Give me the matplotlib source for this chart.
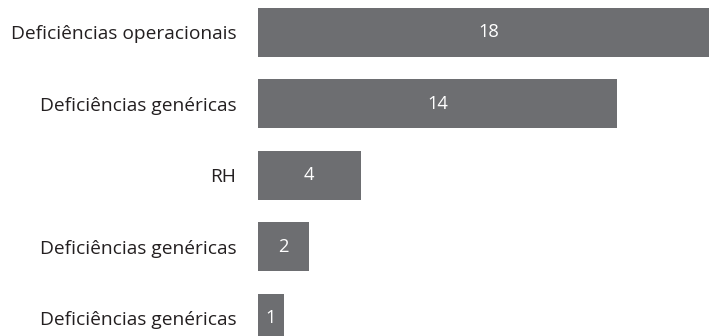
import matplotlib
matplotlib.use("Agg")
import matplotlib.pyplot as plt

categories = ["Deficiências operacionais", "Deficiências genéricas", "RH",
              "Deficiências genéricas", "Deficiências genéricas"]
values = [18, 14, 4, 2, 1]

plt.rcParams['font.family'] = ['Open Sans', 'DejaVu Sans']

fig = plt.figure(figsize=(7.09, 3.36), dpi=100)
ax = fig.add_axes([258/709, 0, 451/709, 1])
pos = list(range(len(values)))
ax.barh(pos, values, height=0.686, color="#6d6e71")
ax.set_xlim(0, 451/25.65)
ax.set_ylim(4.252, -0.455)
ax.set_yticks(pos)
ax.set_yticklabels(categories, fontsize=13.8, color="#231f20")
ax.tick_params(axis='y', length=0, pad=15.5)
ax.set_xticks([])
for s in ax.spines.values():
    s.set_visible(False)
for p, v in zip(pos, values):
    ax.text(v / 2, p, str(v), ha='center', va='center', color='white', fontsize=13.2)
fig.savefig("out.png", dpi=100)
